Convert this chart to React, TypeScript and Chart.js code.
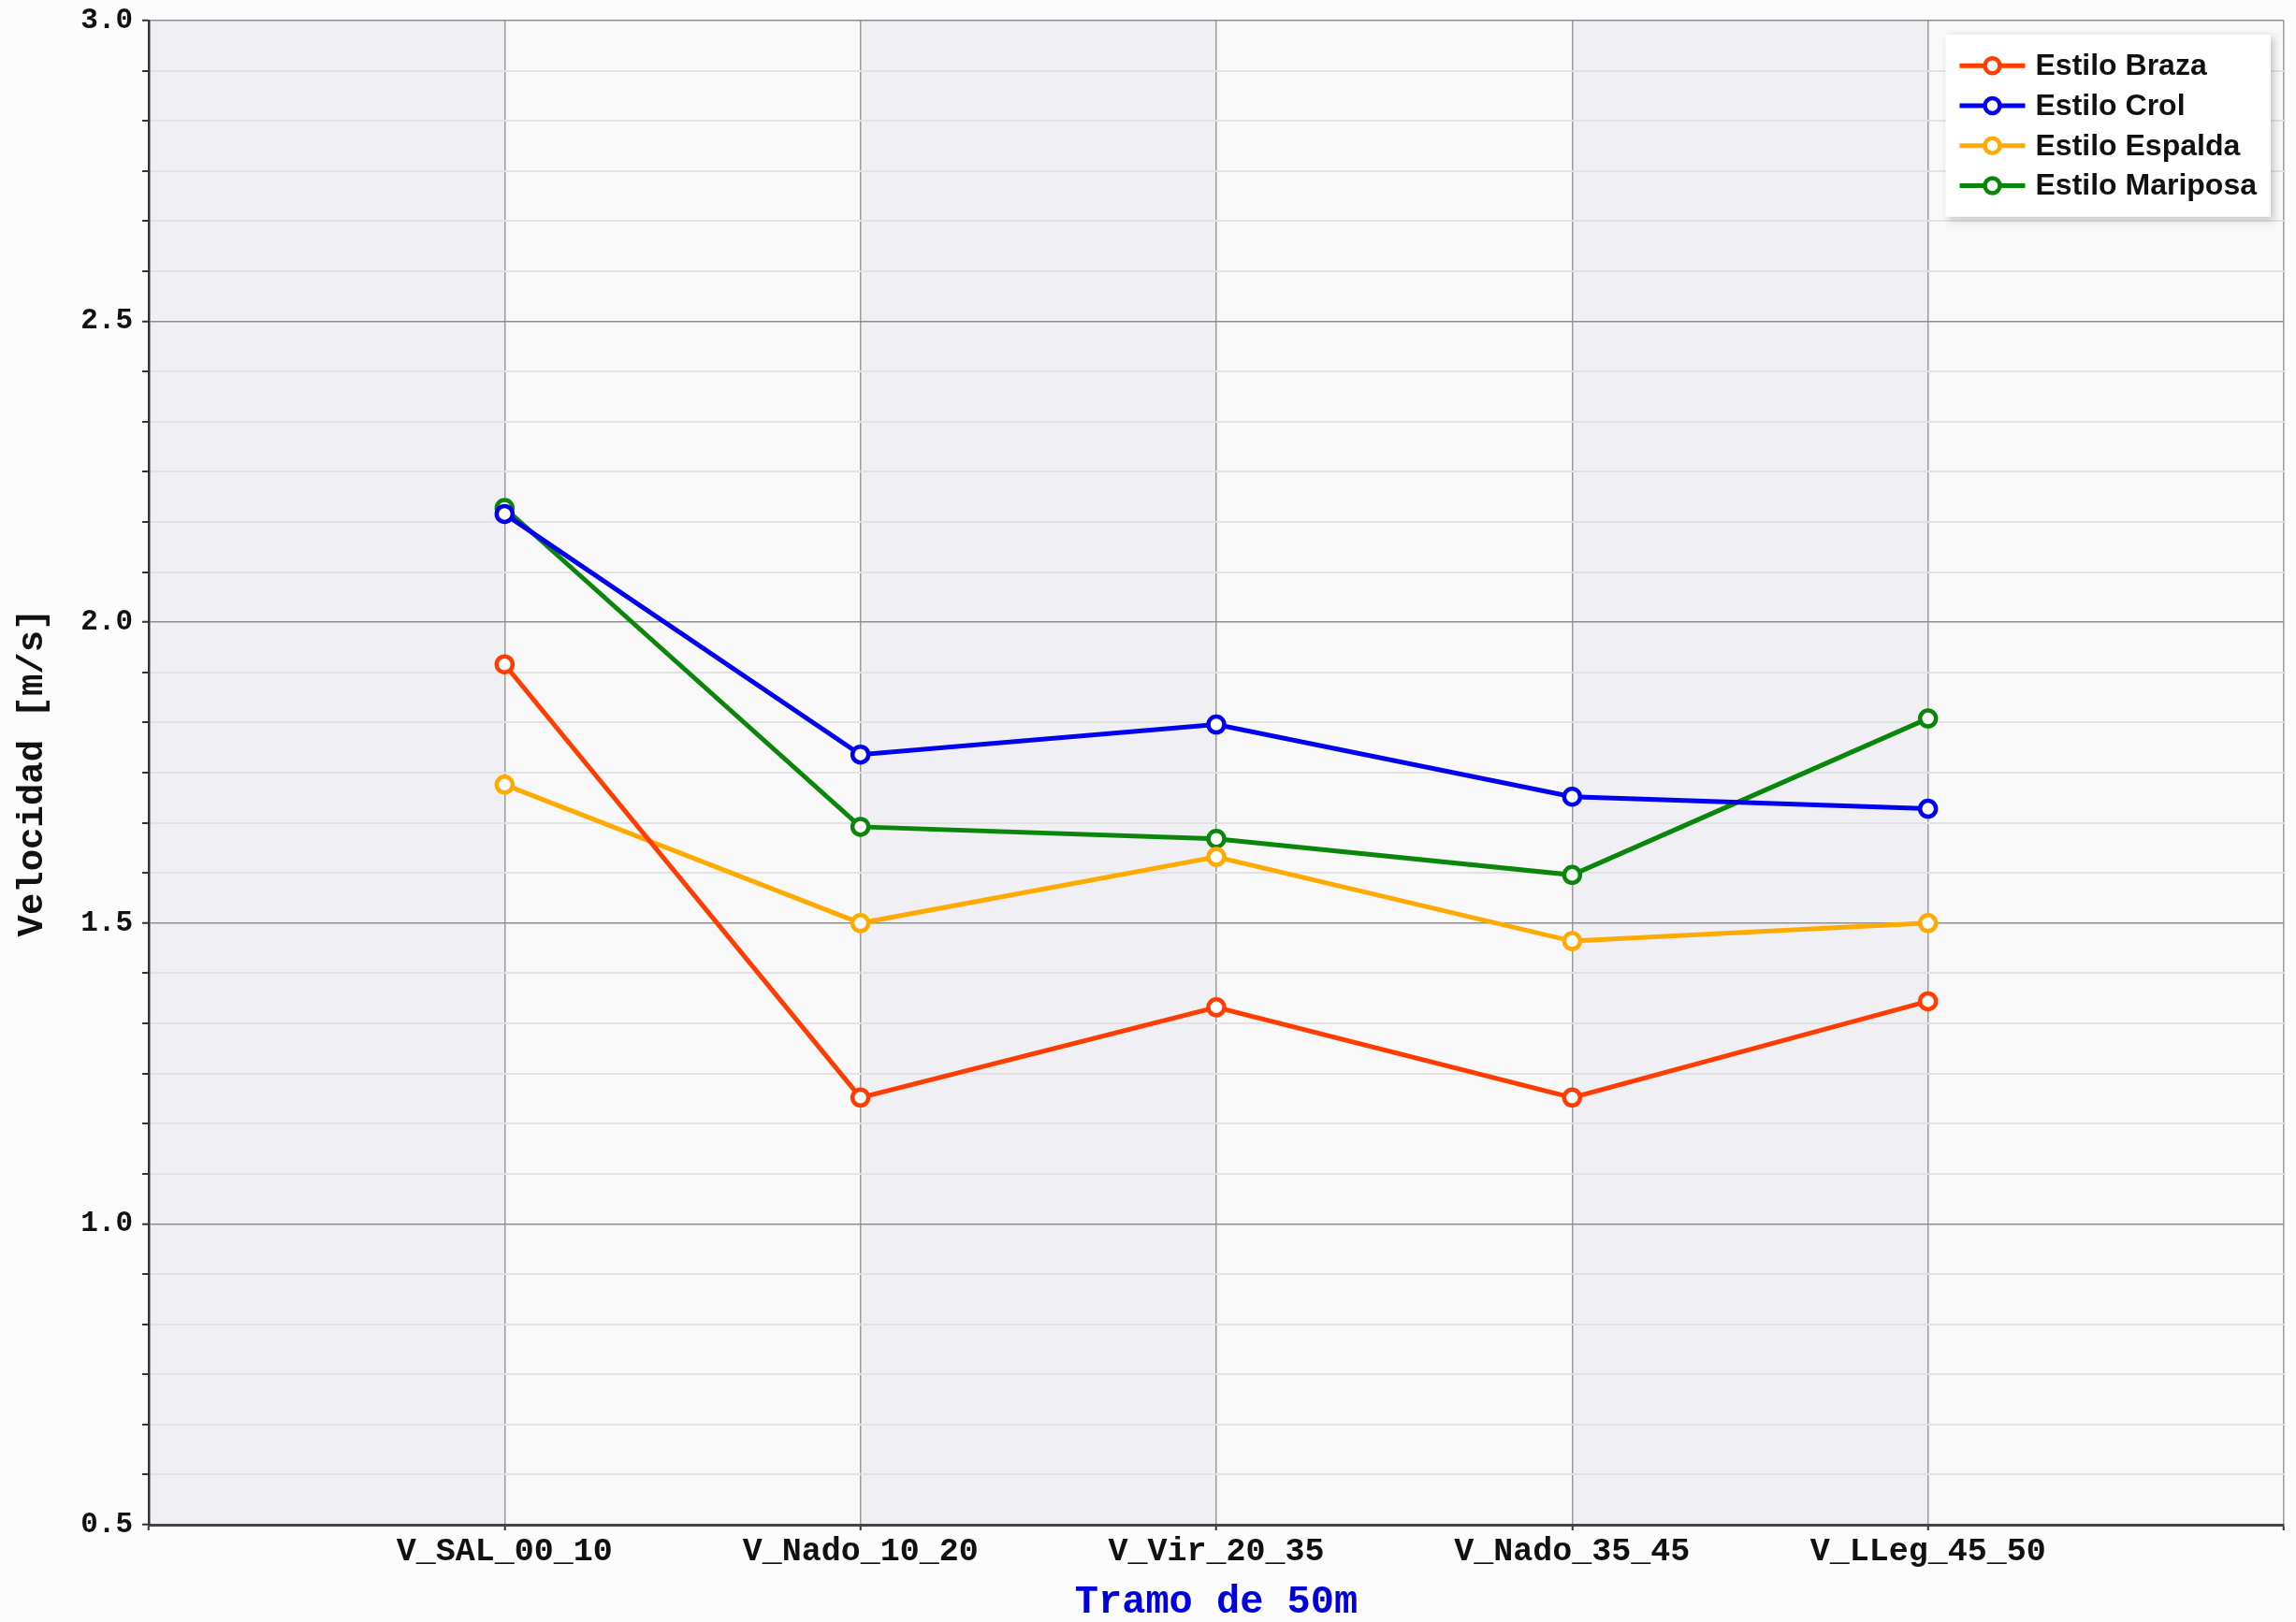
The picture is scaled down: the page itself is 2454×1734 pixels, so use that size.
import React, { useEffect, useRef } from "react";
import { Chart, registerables } from "chart.js";

Chart.register(...registerables);

const categories = ["", "V_SAL_00_10", "V_Nado_10_20", "V_Vir_20_35", "V_Nado_35_45", "V_LLeg_45_50", ""];
const seriesNames = ["Estilo Braza", "Estilo Crol", "Estilo Espalda", "Estilo Mariposa"];
const braza = [null, 1.93, 1.21, 1.36, 1.21, 1.37, null];
const crol = [null, 2.18, 1.78, 1.83, 1.71, 1.69, null];
const espalda = [null, 1.73, 1.5, 1.61, 1.47, 1.5, null];
const mariposa = [null, 2.19, 1.66, 1.64, 1.58, 1.84, null];
const seriesColors = ["#ff3d00", "#0000ee", "#ffaa00", "#0a870a"];
const yMin = 0.5;
const yMax = 3.0;
const yStep = 0.5 / 6;
const xTitle = "Tramo de 50m";
const yTitle = "Velocidad [m/s]";

const MONO = "'Liberation Mono', 'Courier New', monospace";
const SANS = "'Liberation Sans', Arial, sans-serif";

const bandsPlugin = {
  id: "bands",
  beforeDraw(chart: any) {
    const { ctx, chartArea, scales } = chart;
    const x = scales.x;
    ctx.save();
    for (let i = 0; i < categories.length - 1; i++) {
      const a = x.getPixelForValue(i);
      const b = x.getPixelForValue(i + 1);
      ctx.fillStyle = i % 2 === 0 ? "#f0f0f4" : "#f8f8f8";
      ctx.fillRect(a, chartArea.top, b - a, chartArea.bottom - chartArea.top);
    }
    ctx.restore();
  },
};

const boxLegendPlugin = {
  id: "boxLegend",
  afterDraw(chart: any) {
    const { ctx, chartArea } = chart;
    const sets = chart.data.datasets;
    ctx.save();
    ctx.font = `bold 32px ${SANS}`;
    let maxW = 0;
    sets.forEach((d: any) => {
      maxW = Math.max(maxW, ctx.measureText(d.label).width);
    });
    const padL = 15;
    const lineLen = 70;
    const gap = 11;
    const padR = 15;
    const rowH = 42.7;
    const padT = 12;
    const w = padL + lineLen + gap + maxW + padR;
    const h = padT * 2 + rowH * sets.length;
    const right = chartArea.right - 14;
    const top = chartArea.top + 15;
    const left = right - w;
    ctx.shadowColor = "rgba(0,0,0,0.22)";
    ctx.shadowBlur = 8;
    ctx.shadowOffsetX = 3;
    ctx.shadowOffsetY = 3;
    ctx.fillStyle = "#ffffff";
    ctx.fillRect(left, top, w, h);
    ctx.shadowColor = "transparent";
    ctx.shadowBlur = 0;
    ctx.shadowOffsetX = 0;
    ctx.shadowOffsetY = 0;
    sets.forEach((d: any, i: number) => {
      const cy = top + padT + rowH * i + rowH / 2;
      const x0 = left + padL;
      ctx.strokeStyle = d.borderColor;
      ctx.lineWidth = 5;
      ctx.beginPath();
      ctx.moveTo(x0, cy);
      ctx.lineTo(x0 + lineLen, cy);
      ctx.stroke();
      ctx.beginPath();
      ctx.arc(x0 + lineLen / 2, cy, 8, 0, Math.PI * 2);
      ctx.fillStyle = "#ffffff";
      ctx.fill();
      ctx.lineWidth = 4.5;
      ctx.stroke();
      ctx.fillStyle = "#111111";
      ctx.textAlign = "left";
      ctx.textBaseline = "middle";
      ctx.fillText(d.label, x0 + lineLen + gap, cy + 1);
    });
    ctx.restore();
  },
};

const isMajor = (v: number) => Math.abs(v * 2 - Math.round(v * 2)) < 1e-6;

export default function App() {
  const ref = useRef<HTMLCanvasElement | null>(null);
  useEffect(() => {
    if (!ref.current) return;
    const values = [braza, crol, espalda, mariposa];
    const chart = new Chart(ref.current, {
      type: "line",
      data: {
        labels: categories,
        datasets: values.map((v, i) => ({
          label: seriesNames[i],
          data: v,
          borderColor: seriesColors[i],
          backgroundColor: seriesColors[i],
          borderWidth: 5,
          pointRadius: 8.5,
          pointHoverRadius: 8.5,
          pointBorderWidth: 4.5,
          pointBackgroundColor: "#ffffff",
          pointBorderColor: seriesColors[i],
          tension: 0,
          spanGaps: false,
        })),
      },
      options: {
        responsive: false,
        animation: false,
        layout: { padding: { top: 22, right: 8, left: 0, bottom: 0 } },
        plugins: {
          legend: { display: false },
          tooltip: { enabled: false },
        },
        scales: {
          x: {
            type: "category",
            offset: false,
            afterFit: (s: any) => {
              s.height = 104;
              s.paddingLeft = 0;
              s.paddingRight = 0;
            },
            grid: {
              color: "#9a9a9a",
              lineWidth: 1.5,
              tickColor: "#333333",
              tickLength: 6,
              tickWidth: 2,
            },
            border: { display: true, color: "#444444", width: 3 },
            ticks: {
              autoSkip: false,
              maxRotation: 0,
              padding: 2,
              color: "#111111",
              font: { family: MONO, size: 35, weight: "bold" },
            },
            title: {
              display: true,
              text: xTitle,
              color: "#0000dd",
              font: { family: MONO, size: 42, weight: "bold", lineHeight: 1.0 },
              padding: { top: 0, bottom: 0 },
            },
          },
          y: {
            min: yMin,
            max: yMax,
            afterFit: (s: any) => {
              s.width = 159;
              s.paddingTop = 0;
              s.paddingBottom = 0;
            },
            grid: {
              color: (c: any) => (isMajor(c.tick.value) ? "#8e8e8e" : "#e2e2e2"),
              lineWidth: (c: any) => (isMajor(c.tick.value) ? 1.5 : 2),
              tickColor: "#333333",
              tickLength: 7,
              tickWidth: 2,
            },
            border: { display: true, color: "#333333", width: 2.5 },
            ticks: {
              stepSize: yStep,
              autoSkip: false,
              padding: 10,
              color: "#111111",
              font: { family: MONO, size: 31, weight: "bold" },
              callback: (v: any) => (isMajor(Number(v)) ? Number(v).toFixed(1) : ""),
            },
            title: {
              display: true,
              text: yTitle,
              color: "#111111",
              font: { family: MONO, size: 39, weight: "bold" },
              padding: { top: 12, bottom: 0 },
            },
          },
        },
      },
      plugins: [bandsPlugin, boxLegendPlugin],
    } as any);
    return () => chart.destroy();
  }, []);
  return (
    <div style={{ position: "fixed", left: 0, top: 0, width: 2454, height: 1734, background: "#fcfcfc" }}>
      <canvas ref={ref} width={2454} height={1734} style={{ display: "block" }} />
    </div>
  );
}
